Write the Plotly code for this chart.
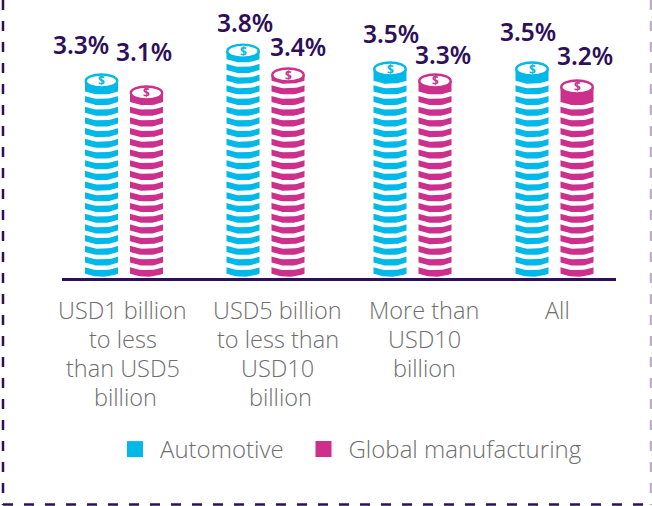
import numpy as np
import plotly.graph_objects as go

category_lines = [["USD1 billion", "to less", "than USD5", "billion"],
                  ["USD5 billion", "to less than", "USD10", "billion"],
                  ["More than", "USD10", "billion"],
                  ["All"]]
automotive = [3.3, 3.8, 3.5, 3.5]
manufacturing = [3.1, 3.4, 3.3, 3.2]
series_names = ["Automotive", "Global manufacturing"]

# layout
W, H = 652, 506
L, R, T, BASE = 62, 616, 0, 278
SPACING = 143.5
PX_PER_UNIT = 59.7
PW, PH = R - L, BASE - T
BLUE, PINK, DARK, GREY = "#00B9E8", "#CC2F8C", "#2E0F59", "#6E6E6E"
HALF_OFFSET = 22.5 / SPACING
BAR_W = 33 / SPACING
group_px = [124, 265.5, 412.5, 554.5]
group_x = [(g - 124) / SPACING for g in group_px]
label_dx = [[-21, 2, 1, -4], [-3, 10, 8, 8]]
label_dy = [[36, 29, 36, 38], [41, 29, 26, 31]]
cat_px = [122.5, 277.5, 424, 557.5]
legend_px = [110, 298.5]

fig = go.Figure()
shapes, annos = [], []
xr = [(L - 124) / SPACING, (R - 124) / SPACING]
yr = [0, PH / PX_PER_UNIT]
PITCH = 10.7 / PX_PER_UNIT
SAG = 3.5 / PX_PER_UNIT

for s, (name, vals, col) in enumerate(zip(series_names, [automotive, manufacturing], [BLUE, PINK])):
    off = -HALF_OFFSET if s == 0 else HALF_OFFSET
    xs = [g + off for g in group_x]
    fig.add_trace(go.Bar(x=xs, y=vals, width=BAR_W, marker=dict(color=col, line=dict(width=0)),
                         showlegend=False, hoverinfo="skip"))
    cx, cy, fx, fy = [], [], [], []
    t = np.linspace(-1, 1, 17)
    half = BAR_W / 2 + 1.5 / SPACING
    for x, v in zip(xs, vals):
        # white curved gaps between coins, stacked up from the baseline
        y_end = 13.5 / PX_PER_UNIT
        while y_end - SAG < v - 11.0 / PX_PER_UNIT:
            cx += list(x + t * half) + [None]
            cy += list(y_end - SAG * (1 - t ** 2)) + [None]
            y_end += PITCH
        # rounded underside of the lowest coin
        bottom = list(4.8 / PX_PER_UNIT - SAG * (1 - t ** 2))
        fx += list(x + t * half) + [x + half, x - half, x - half, None]
        fy += bottom + [0, 0, bottom[0], None]
    fig.add_trace(go.Scatter(x=cx, y=cy, mode="lines", line=dict(color="white", width=4.5),
                             showlegend=False, hoverinfo="skip"))
    fig.add_trace(go.Scatter(x=fx, y=fy, mode="lines", fill="toself", fillcolor="white",
                             line=dict(width=0, color="white"), showlegend=False, hoverinfo="skip"))
    # top coin
    for i, (x, v) in enumerate(zip(xs, vals)):
        shapes.append(dict(type="circle", xref="x", yref="y", layer="above",
                           x0=x - BAR_W / 2 + 0.8 / SPACING, x1=x + BAR_W / 2 - 0.8 / SPACING,
                           y0=v - 6.5 / PX_PER_UNIT, y1=v + 6.5 / PX_PER_UNIT,
                           fillcolor="white", line=dict(color=col, width=2.4)))
        annos.append(dict(x=x, y=v, xref="x", yref="y", text="$", showarrow=False,
                          font=dict(family="Noto Sans", size=12, color=col, weight=700)))
        annos.append(dict(x=x, y=v, xref="x", yref="y", text=f"{v:.1f}%", showarrow=False,
                          xshift=label_dx[s][i], yshift=label_dy[s][i],
                          font=dict(family="Noto Sans", size=24.5, color=DARK, weight=600)))
    # legend swatch
    fig.add_trace(go.Scatter(x=[None], y=[None], mode="markers", name=name,
                             legend="legend" if s == 0 else "legend2",
                             marker=dict(symbol="square", size=20, color=col)))

def px(x): return (x - L) / PW
def py(y): return (BASE - y) / PH

for c, (lines, cp) in enumerate(zip(category_lines, cat_px)):
    for j, line in enumerate(lines):
        shift = 3 if (c < 2 and j == 3) else 0
        annos.append(dict(x=px(cp + shift), y=py(309.5 + 29 * j), xref="paper", yref="paper", text=line,
                          showarrow=False, xanchor="center", yanchor="middle",
                          font=dict(family="Open Sans", size=23.5, color=GREY, weight=300)))

dash = "10px,11px"
for (a, b, c, d, col) in [(3, 0, 3, 505, DARK), (3, 504.5, 651, 504.5, DARK), (651, 0, 651, 505, "#BCAECB")]:
    shapes.append(dict(type="line", xref="paper", yref="paper", x0=px(a), y0=py(b), x1=px(c), y1=py(d),
                       line=dict(color=col, width=2.5, dash=dash)))

legend_style = dict(orientation="h", y=py(449.5), xanchor="left", yanchor="middle",
                    font=dict(family="Open Sans", size=24, color=GREY, weight=300),
                    itemwidth=40, bgcolor="rgba(0,0,0,0)")
fig.update_layout(
    width=W, height=H, margin=dict(l=L, r=W - R, t=T, b=H - BASE, pad=0),
    paper_bgcolor="white", plot_bgcolor="white", barmode="overlay",
    xaxis=dict(range=xr, showgrid=False, zeroline=False, showticklabels=False, ticks="",
               showline=True, linecolor=DARK, linewidth=3),
    yaxis=dict(range=yr, visible=False),
    shapes=shapes, annotations=annos,
    legend=dict(x=px(legend_px[0]), **legend_style),
    legend2=dict(x=px(legend_px[1]), **legend_style),
)
fig.write_html("out.html", config=dict(displayModeBar=False),
               post_script="document.body.style.margin='0';document.body.style.overflow='hidden';")
